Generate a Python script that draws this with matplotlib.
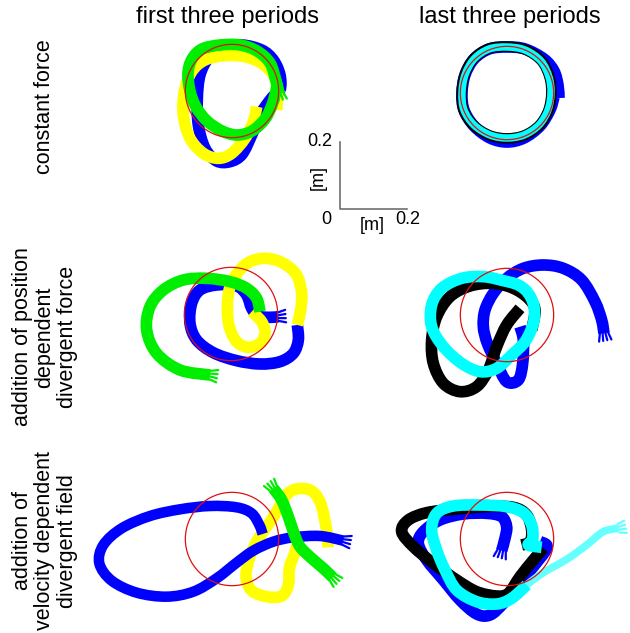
import matplotlib
matplotlib.use("Agg")
import numpy as np
import matplotlib.pyplot as plt
from matplotlib.patches import Circle, PathPatch
from matplotlib.path import Path

plt.rcParams['font.family'] = ['Liberation Sans', 'DejaVu Sans']

# ---------------- data (hand positions, mm, relative to target centre) -----
col_titles = ["first three periods", "last three periods"]
row_labels = ["constant force",
              "addition of position\ndependent\ndivergent force",
              "addition of\nvelocity dependent\ndivergent field"]
target_radius_m = 0.14
scale_bar_m = 0.2

# constant force, first three periods
cf_first_blue_x = [144, 144, 124, 89, 29, -31, -71, -96, -104, -101, -81, -46, -6, 30, 60, 85, 120, 144]
cf_first_blue_y = [3, 48, 93, 123, 138, 128, 98, 48, -22, -102, -172, -210, -212, -190, -130, -70, -20, 3]
cf_first_yellow_x = [74, 64, 39, -1, -41, -86, -126, -146, -143, -121, -81, -21, 39, 89, 124, 137, 134]
cf_first_yellow_y = [-47, -92, -142, -187, -202, -187, -142, -72, -2, 58, 93, 106, 103, 83, 48, -2, -57]
cf_first_green_x = [141, 132, 114, 75, 24, -36, -90, -120, -132, -126, -108, -75, -30, 15, 60, 99, 120, 132, 135]
cf_first_green_y = [-6, 30, 84, 120, 138, 138, 126, 96, 54, 0, -48, -90, -120, -132, -120, -84, -42, 0, 24]

# constant force, last three periods
cf_last_blue_x = [156, 153, 141, 111, 54, 0, -54, -99, -126, -135, -129, -99, -51, 0, 51, 99, 129, 141]
cf_last_blue_y = [-15, 24, 66, 102, 132, 138, 132, 102, 54, 0, -51, -99, -135, -147, -135, -99, -51, -12]
cf_last_black_x = [133, 127, 103, 55, 0, -55, -100, -127, -136, -130, -100, -52, 0, 52, 97, 124, 133]
cf_last_black_y = [0, 49, 97, 130, 139, 133, 103, 55, 0, -52, -97, -127, -136, -127, -97, -52, 0]
cf_last_cyan_x = [132, 126, 102, 54, 0, -54, -99, -126, -135, -129, -99, -51, 0, 51, 96, 123, 132]
cf_last_cyan_y = [0, 48, 96, 129, 138, 132, 102, 54, 0, -51, -96, -126, -135, -126, -96, -51, 0]

# position dependent divergent force, first three periods
pd_first_blue_x = [199, 202, 187, 147, 87, 17, -53, -103, -123, -118, -93, -43, 17, 47, 62, 82, 117, 142]
pd_first_blue_y = [-33, -78, -118, -143, -150, -140, -116, -78, -28, 32, 72, 87, 84, 57, 17, -6, -10, -8]
pd_first_yellow_x = [62, 92, 102, 87, 52, 17, -5, -11, -3, 22, 57, 107, 157, 197, 212, 209, 199]
pd_first_yellow_y = [7, -23, -58, -88, -100, -83, -38, 22, 82, 127, 157, 167, 152, 117, 62, 12, -33]
pd_first_green_x = [-63, -153, -223, -253, -243, -203, -143, -73, -3, 47, 77, 87]
pd_first_green_y = [-183, -168, -118, -48, 22, 72, 102, 107, 97, 77, 47, 7]

# position dependent divergent force, last three periods
pd_last_blue_x = [291, 284, 264, 224, 169, 109, 49, -1, -41, -66, -71, -59, -31, -1, 34, 47, 49, 39]
pd_last_blue_y = [-55, -15, 40, 105, 140, 150, 140, 110, 65, 15, -35, -85, -145, -200, -195, -145, -75, -35]
pd_last_black_x = [39, -1, -31, -56, -91, -141, -191, -221, -226, -211, -171, -111, -41, 19, 64, 84, 74]
pd_last_black_y = [20, -30, -95, -165, -215, -230, -205, -145, -75, -5, 55, 87, 95, 80, 50, 15, -45]
pd_last_cyan_x = [64, 81, 79, 54, 14, -31, -81, -136, -191, -226, -226, -196, -136, -71, -11, 34, 64]
pd_last_cyan_y = [65, 25, -25, -80, -120, -160, -170, -145, -95, -35, 30, 80, 110, 115, 103, 90, 65]

# velocity dependent divergent field, first three periods
vd_first_blue_x = [334, 264, 184, 124, 64, 14, -46, -116, -196, -286, -361, -398, -386, -331, -246, -156, -66, 14, 59, 82, 92]
vd_first_blue_y = [-5, 9, 5, -8, -35, -71, -118, -158, -173, -161, -125, -73, -18, 32, 69, 89, 99, 95, 77, 42, 15]
vd_first_yellow_x = [289, 282, 264, 234, 189, 159, 134, 104, 74, 52, 42, 59, 104, 149, 169, 172, 186, 199]
vd_first_yellow_y = [-25, 37, 112, 147, 149, 127, 82, 37, -8, -58, -113, -155, -173, -171, -138, -88, -48, -8]
vd_first_green_x = [124, 149, 169, 186, 204, 239, 274, 302]
vd_first_green_y = [152, 117, 67, 17, -23, -58, -88, -115]

# velocity dependent divergent field, last three periods
vd_last_blue_x = [-16, -6, -1, -16, -61, -131, -201, -251, -266, -241, -191, -141, -91, -51, -11, 39, 79, 114, 119, 99]
vd_last_blue_y = [-35, 2, 37, 67, 77, 75, 57, 22, -13, -63, -123, -183, -225, -228, -193, -133, -83, -38, -18, -8]
vd_last_black_x = [109, 79, 39, 4, -31, -91, -151, -221, -281, -316, -296, -241, -161, -61, 19, 59, 74, 69, 44]
vd_last_black_y = [-28, -63, -113, -163, -171, -158, -123, -73, -23, 22, 57, 79, 89, 97, 95, 72, 27, -8, -18]
vd_last_cyan_x = [334, 289, 239, 179, 109, 59, 14, -31, -91, -151, -186, -211, -226, -211, -161, -81, -1, 49, 74, 77, 64, 104]
vd_last_cyan_y = [32, 22, -18, -61, -101, -138, -178, -195, -188, -153, -93, -33, 27, 77, 99, 102, 97, 79, 42, -1, -18, -25]

# ---------------- figure --------------------------------------------------
W, H = 630, 633
M_PER_PX = 0.003
fig = plt.figure(figsize=(W / 100, H / 100), dpi=100)
ax = fig.add_axes([0, 0, 1, 1])
ax.set_xlim(0, W * M_PER_PX)
ax.set_ylim(-H * M_PER_PX, 0)
ax.axis('off')

BLUE = '#0000ff'
GREEN = '#00ee00'
YELLOW = '#ffff00'
CYAN = '#00ffff'
BLACK = '#000000'
LW = 8.4


def px2m(px, py):
    return px * M_PER_PX, -py * M_PER_PX


def smooth_path(P):
    """Bezier rendering through the waypoints (Catmull-Rom tangents)."""
    P = np.asarray(P, float)
    n = len(P)
    closed = np.allclose(P[0], P[-1])
    verts = [P[0]]
    codes = [Path.MOVETO]
    for i in range(n - 1):
        p1, p2 = P[i], P[i + 1]
        if i > 0:
            p0 = P[i - 1]
        else:
            p0 = P[-2] if closed else P[0]
        if i + 2 < n:
            p3 = P[i + 2]
        else:
            p3 = P[1] if closed else P[i + 1]
        c1 = p1 + (p2 - p0) / 6.0
        c2 = p2 - (p3 - p1) / 6.0
        verts += [c1, c2, p2]
        codes += [Path.CURVE4] * 3
    return Path(verts, codes)


def traj(center, xs, ys, color, lw=LW, alpha=1.0, z=2):
    cx, cy = px2m(*center)
    pts = [(cx + a / 1000, cy + b / 1000) for a, b in zip(xs, ys)]
    ax.add_patch(PathPatch(smooth_path(pts), fill=False, ec=color, lw=lw,
                           capstyle='butt', joinstyle='round', alpha=alpha, zorder=z))


def hand(center, xs, ys, color, end=True, z=6, size=0.022):
    """little finger-like strokes at the end of a trajectory"""
    cx, cy = px2m(*center)
    if end:
        (x0, y0), (x1, y1) = (xs[-2], ys[-2]), (xs[-1], ys[-1])
    else:
        (x0, y0), (x1, y1) = (xs[1], ys[1]), (xs[0], ys[0])
    d = np.array([x1 - x0, y1 - y0], float)
    d /= np.hypot(*d)
    nrm = np.array([-d[1], d[0]])
    base = np.array([cx + x1 / 1000, cy + y1 / 1000])
    for k in (-1.5, -0.5, 0.5, 1.5):
        s = base + nrm * k * 0.0085
        e = s + d * size + nrm * k * 0.004
        ax.plot([s[0], e[0]], [s[1], e[1]], color=color, lw=1.6, solid_capstyle='round', zorder=z)


def target(center):
    cx, cy = px2m(*center)
    ax.add_patch(Circle((cx, cy), target_radius_m, fill=False, ec='#e01010', lw=0.9, zorder=10))


c_tl, c_tr = (232, 91), (507, 93)
c_ml, c_mr = (231, 314), (507, 315)
c_bl, c_br = (232, 539), (507, 539)

# constant force
traj(c_tl, cf_first_blue_x, cf_first_blue_y, BLUE, z=2)
traj(c_tl, cf_first_yellow_x, cf_first_yellow_y, YELLOW, z=3)
traj(c_tl, cf_first_green_x, cf_first_green_y, GREEN, z=4)
hand(c_tl, cf_first_green_x, cf_first_green_y, GREEN, end=False)
traj(c_tr, cf_last_blue_x, cf_last_blue_y, BLUE, z=2)
traj(c_tr, cf_last_black_x, cf_last_black_y, BLACK, lw=7.6, z=3)
traj(c_tr, cf_last_cyan_x, cf_last_cyan_y, CYAN, lw=5.4, z=4)
target(c_tl); target(c_tr)

# position dependent
traj(c_ml, pd_first_blue_x, pd_first_blue_y, BLUE, z=2)
hand(c_ml, pd_first_blue_x, pd_first_blue_y, BLUE, end=True)
traj(c_ml, pd_first_yellow_x, pd_first_yellow_y, YELLOW, z=3)
traj(c_ml, pd_first_green_x, pd_first_green_y, GREEN, z=4)
hand(c_ml, pd_first_green_x, pd_first_green_y, GREEN, end=False)
traj(c_mr, pd_last_blue_x, pd_last_blue_y, BLUE, z=2)
hand(c_mr, pd_last_blue_x, pd_last_blue_y, BLUE, end=False)
traj(c_mr, pd_last_black_x, pd_last_black_y, BLACK, z=3)
traj(c_mr, pd_last_cyan_x, pd_last_cyan_y, CYAN, z=4)
target(c_ml); target(c_mr)

# velocity dependent
traj(c_bl, vd_first_yellow_x, vd_first_yellow_y, YELLOW, z=2)
traj(c_bl, vd_first_blue_x, vd_first_blue_y, BLUE, lw=7.6, z=3)
hand(c_bl, vd_first_blue_x, vd_first_blue_y, BLUE, end=False)
traj(c_bl, vd_first_green_x, vd_first_green_y, GREEN, lw=8.4, z=4)
hand(c_bl, vd_first_green_x, vd_first_green_y, GREEN, end=False)
hand(c_bl, vd_first_green_x, vd_first_green_y, GREEN, end=True)
traj(c_br, vd_last_blue_x, vd_last_blue_y, BLUE, z=2)
hand(c_br, vd_last_blue_x, vd_last_blue_y, BLUE, end=False)
traj(c_br, vd_last_black_x, vd_last_black_y, BLACK, z=3)
traj(c_br, vd_last_cyan_x[:7], vd_last_cyan_y[:7], '#66ffff', lw=5.5, z=4)
hand(c_br, vd_last_cyan_x, vd_last_cyan_y, '#66ffff', end=False)
traj(c_br, vd_last_cyan_x[5:], vd_last_cyan_y[5:], CYAN, z=4)
target(c_bl); target(c_br)

# scale bar
ox, oy = px2m(340, 209)
ax.plot([ox, ox, ox + scale_bar_m], [oy + scale_bar_m, oy, oy], color='#707070', lw=1.2, zorder=5)


def ftext(x, y, s, **kw):
    fig.text(x / W, 1 - y / H, s, **kw)


ftext(332, 142, "0.2", ha='right', va='center', fontsize=13)
ftext(331, 220, "0", ha='right', va='center', fontsize=13)
ftext(372, 225, "[m]", ha='center', va='center', fontsize=13)
ftext(408, 220, "0.2", ha='center', va='center', fontsize=13)
ftext(318, 178, "[m]", ha='center', va='center', fontsize=13, rotation=90)

ftext(228, 17, col_titles[0], ha='center', va='center', fontsize=17)
ftext(510, 17, col_titles[1], ha='center', va='center', fontsize=17)

ftext(45, 107, row_labels[0], ha='center', va='center', fontsize=15.5, rotation=90)
ftext(45, 337, row_labels[1], ha='center', va='center', fontsize=15.5, rotation=90,
      multialignment='center', linespacing=1.1)
ftext(45, 541, row_labels[2], ha='center', va='center', fontsize=15.5, rotation=90,
      multialignment='center', linespacing=1.1)

fig.savefig("out.png", dpi=100)
